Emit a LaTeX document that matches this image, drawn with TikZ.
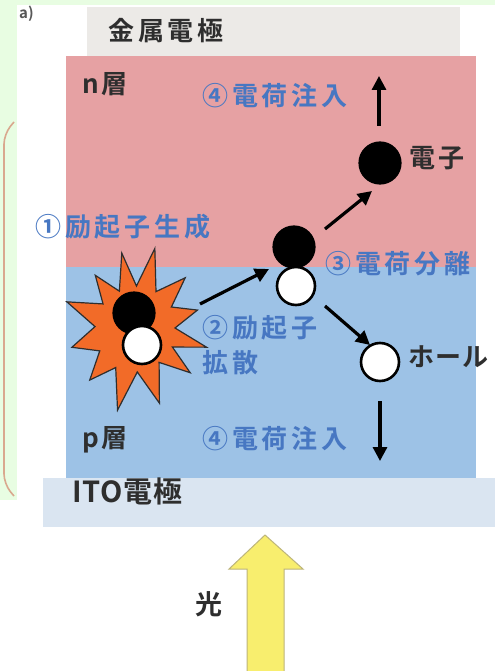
\documentclass[tikz,border=0pt]{standalone}
\usepackage{fontspec}
\setmainfont{Noto Sans CJK JP}[BoldFont={Noto Sans CJK JP Bold}]
\usetikzlibrary{arrows.meta}

\definecolor{pagegreen}{HTML}{E8FDE2}
\definecolor{framebrown}{HTML}{D9A88E}
\definecolor{metalgray}{HTML}{ECEAE7}
\definecolor{nlayer}{HTML}{E6A1A3}
\definecolor{player}{HTML}{9DC2E6}
\definecolor{itoblue}{HTML}{DAE5F1}
\definecolor{labelblue}{HTML}{4777C2}
\definecolor{inkgray}{HTML}{2E2E2E}
\definecolor{burst}{HTML}{F26B28}
\definecolor{lightyellow}{HTML}{F8EE6E}
\definecolor{lightedge}{HTML}{BDB57A}

\tikzset{
  txt/.style={anchor=west, inner sep=0pt, text height=0.84em, text depth=0.08em,
              font=\fontsize{26}{26}\selectfont\bfseries\addfontfeature{LetterSpace=15}, text=inkgray},
  bluetxt/.style={txt, text=labelblue},
  electron/.style={circle, fill=black, draw=black, line width=1.2pt, minimum size=42pt, inner sep=0pt},
  hole/.style={circle, fill=white, draw=black, line width=2.6pt, minimum size=38pt, inner sep=0pt},
  flow/.style={line width=3.2pt, black, -{Triangle[length=14pt,width=14pt]}},
}

\begin{document}
\begin{tikzpicture}[x=1pt, y=-1pt]
  \useasboundingbox (0,0) rectangle (495,671);
  \fill[white] (0,0) rectangle (495,671);

  % page background strips and frame edge
  \fill[pagegreen] (0,0) rectangle (17,500);
  \draw[framebrown, line width=1.6pt, rounded corners=10pt]
    (14,122) -- (4,134) -- (4,484) -- (14,496);
  \fill[pagegreen] (17,0) rectangle (495,5);
  \node[anchor=west, inner sep=0pt, font=\fontsize{15}{15}\selectfont\bfseries, text=inkgray!80] (tag) at (19,14) {a)};

  % layers
  \fill[metalgray] (87,7) rectangle (460,56);
  \fill[nlayer] (66,56) rectangle (476,267);
  \fill[player] (66,267) rectangle (476,478);
  \fill[itoblue] (43,478) rectangle (495,527);

  % layer captions
  \node[txt] (metal) at (108,37) {金属電極};
  \node[txt, font=\fontsize{26}{26}\selectfont\bfseries\addfontfeature{LetterSpace=10}] (nl) at (82,90) {n層};
  \node[txt, font=\fontsize{26}{26}\selectfont\bfseries\addfontfeature{LetterSpace=10}] (pl) at (82,444) {p層};
  \node[txt, font=\fontsize{29}{29}\selectfont\bfseries\addfontfeature{LetterSpace=3}] (ito) at (72,499) {ITO電極};

  % process labels
  \node[bluetxt] (inj1) at (202,102) {④電荷注入};
  \node[bluetxt] (gen) at (35,233) {①励起子生成};
  \node[bluetxt] (sep) at (325,270) {③電荷分離};
  \node[bluetxt] (dif1) at (202,334) {②励起子};
  \node[bluetxt] (dif2) at (202,369) {拡散};
  \node[bluetxt] (inj2) at (202,445) {④電荷注入};

  % exciton generation burst
  \filldraw[fill=burst, draw=inkgray, line width=1.2pt, line join=miter]
    ([shift={(135,328)}]-100:76) -- ([shift={(135,328)}]-88:42) --
    ([shift={(135,328)}]-76:82) -- ([shift={(135,328)}]-60:42) --
    ([shift={(135,328)}]-45:71) -- ([shift={(135,328)}]-30:42) --
    ([shift={(135,328)}]-16:65) -- ([shift={(135,328)}]0:40) --
    ([shift={(135,328)}]15:74) -- ([shift={(135,328)}]27:42) --
    ([shift={(135,328)}]39:71) -- ([shift={(135,328)}]55:42) --
    ([shift={(135,328)}]72:79) -- ([shift={(135,328)}]87:44) --
    ([shift={(135,328)}]102:84) -- ([shift={(135,328)}]116:44) --
    ([shift={(135,328)}]131:69) -- ([shift={(135,328)}]147:42) --
    ([shift={(135,328)}]163:66) -- ([shift={(135,328)}]182:40) --
    ([shift={(135,328)}]201:73) -- ([shift={(135,328)}]217:40) --
    ([shift={(135,328)}]233:66) -- ([shift={(135,328)}]247:40) -- cycle;

  % carriers
  \node[electron] (ex-e) at (134,313) {};
  \node[hole] (ex-h) at (142,345) {};
  \node[electron] (ct-e) at (294,247) {};
  \node[hole] (ct-h) at (296,286) {};
  \node[electron] (el) at (380,163) {};
  \node[hole] (ho) at (380,362) {};
  \node[txt, font=\fontsize{26}{26}\selectfont\bfseries\addfontfeature{LetterSpace=12}] (eltxt) at (409,164) {電子};
  \node[txt, font=\fontsize{26}{26}\selectfont\bfseries\addfontfeature{LetterSpace=4}] (hotxt) at (408,363) {ホール};

  % transport arrows
  \coordinate (a1s) at (200,304);
  \coordinate (a1e) at (269,269);
  \coordinate (a2s) at (325,229);
  \coordinate (a2e) at (372,191);
  \coordinate (a3s) at (325,306);
  \coordinate (a3e) at (370,345);
  \coordinate (upS) at (379,126);
  \coordinate (upE) at (379,76);
  \coordinate (dnS) at (380,401);
  \coordinate (dnE) at (380,461);
  \draw[flow] (a1s) -- (a1e);
  \draw[flow] (a2s) -- (a2e);
  \draw[flow] (a3s) -- (a3e);
  \draw[flow] (upS) -- (upE);
  \draw[flow] (dnS) -- (dnE);

  % incoming light
  \filldraw[fill=lightyellow, draw=lightedge, line width=1pt, line join=miter]
    (265,535) -- (303,569) -- (284,569) -- (284,672) -- (247,672) -- (247,569) -- (229,569) -- cycle;
  \node[txt, font=\fontsize{27}{27}\selectfont\bfseries] (light) at (195,611) {光};
\end{tikzpicture}
\end{document}
